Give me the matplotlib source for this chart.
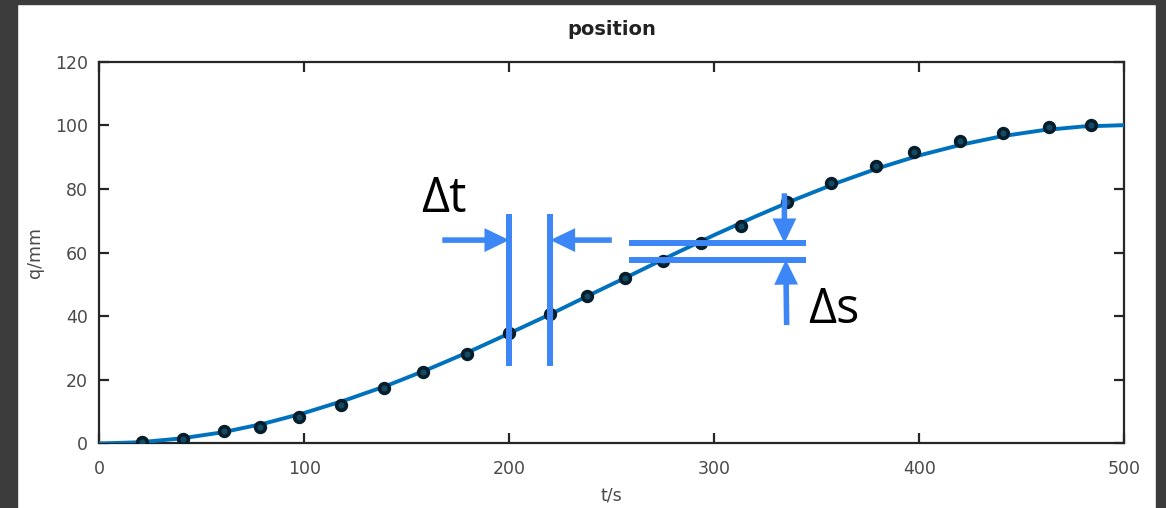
import matplotlib
matplotlib.use('Agg')
import matplotlib.pyplot as plt
from matplotlib.patches import Rectangle

# smooth position curve
t_line = [0, 20, 40, 60, 80, 100, 120, 140, 160, 180, 200, 220, 240, 260,
          280, 300, 320, 340, 360, 380, 400, 420, 440, 460, 480, 500]
q_line = [0.0, 0.4, 1.6, 3.5, 6.2, 9.6, 13.6, 18.1, 23.2, 28.7, 34.6, 40.6, 46.9,
          53.1, 59.4, 65.5, 71.3, 76.8, 81.9, 86.5, 90.5, 93.8, 96.5, 98.4, 99.6, 100.0]

# sampled points (dots)
t_pts = [21, 41, 61, 78.5, 97.5, 118, 139, 158, 179.5, 200, 220, 238, 256.5, 275,
         293.5, 313, 335.5, 357, 379, 397.5, 420, 441, 463.5, 484]
q_pts = [0.6, 1.4, 4.0, 5.3, 8.4, 12.1, 17.4, 22.4, 28.0, 34.8, 40.8, 46.3, 51.9, 57.3,
         62.9, 68.3, 75.8, 81.7, 87.2, 91.5, 95.1, 97.5, 99.4, 100.0]

xticks = [0, 100, 200, 300, 400, 500]
yticks = [0, 20, 40, 60, 80, 100, 120]

# annotation anchors in data units
dt_lines = [200, 220]
ds_lines = [57.7, 62.9]

ann_c = '#3d86f5'
axis_c = '#262626'
tick_c = '#4a4a4a'


def arrow(ax, start, end):
    ax.annotate('', xy=end, xytext=start,
                arrowprops=dict(arrowstyle='-|>,head_length=0.75,head_width=0.36',
                                color=ann_c, lw=4.0, mutation_scale=15,
                                capstyle='butt', joinstyle='miter',
                                shrinkA=0, shrinkB=0), zorder=6)


def main():
    fig = plt.figure(figsize=(11.66, 5.08), dpi=100)
    ax = fig.add_axes([0.0852, 0.127, 0.8790, 0.7519])

    ax.plot(t_line, q_line, color='#0072BD', lw=2.8, zorder=3)
    ax.plot(t_pts, q_pts, 'o', ls='none', ms=7, mew=2.6,
            mec='#061d2b', mfc='#134a66', zorder=4)

    ax.set_xlim(0, 500); ax.set_ylim(0, 120)
    ax.set_xticks(xticks); ax.set_yticks(yticks)
    ax.tick_params(direction='in', length=7, width=1.6, color=axis_c,
                   top=True, right=True, labelsize=12.5, labelcolor=tick_c)
    ax.tick_params(axis='x', pad=12)
    ax.tick_params(axis='y', pad=8)
    for s in ax.spines.values():
        s.set_linewidth(1.6); s.set_color(axis_c)

    ax.set_title('position', fontsize=14, fontweight='bold', color='#222222', pad=19)
    ax.set_xlabel('t/s', fontsize=12.5, color=tick_c, labelpad=6)
    ax.set_ylabel('q/mm', fontsize=12.5, color=tick_c, labelpad=8)

    # delta t marker
    for x in dt_lines:
        ax.plot([x, x], [24.2, 72.0], color=ann_c, lw=4.3, solid_capstyle='butt', zorder=5)
    arrow(ax, (167.3, 63.9), (dt_lines[0], 63.9))
    arrow(ax, (250.0, 63.9), (dt_lines[1], 63.9))
    ax.text(157.0, 72.7, '\u0394t', fontsize=35, family=['Open Sans', 'DejaVu Sans'],
            ha='left', va='baseline', zorder=7)

    # delta s marker
    for y in ds_lines:
        ax.plot([258.4, 344.8], [y, y], color=ann_c, lw=4.3, solid_capstyle='butt', zorder=5)
    arrow(ax, (334.2, 78.6), (334.2, ds_lines[1]))
    arrow(ax, (335.3, 37.2), (334.9, ds_lines[0]))
    ax.text(346.0, 37.8, '\u0394s', fontsize=35, family=['Open Sans', 'DejaVu Sans'],
            ha='left', va='baseline', zorder=7)

    # dark window frame around the screenshot
    frame_c = '#3c3c3c'
    fig.patches.append(Rectangle((0, 0), 17 / 1166, 1, transform=fig.transFigure,
                                 color=frame_c, zorder=0))
    fig.patches.append(Rectangle((0, 1 - 4 / 508), 1, 4 / 508, transform=fig.transFigure,
                                 color=frame_c, zorder=0))
    fig.patches.append(Rectangle((1156 / 1166, 0), 10 / 1166, 1, transform=fig.transFigure,
                                 color=frame_c, zorder=0))

    fig.savefig('out.png', dpi=100)


if __name__ == "__main__":
    main()
